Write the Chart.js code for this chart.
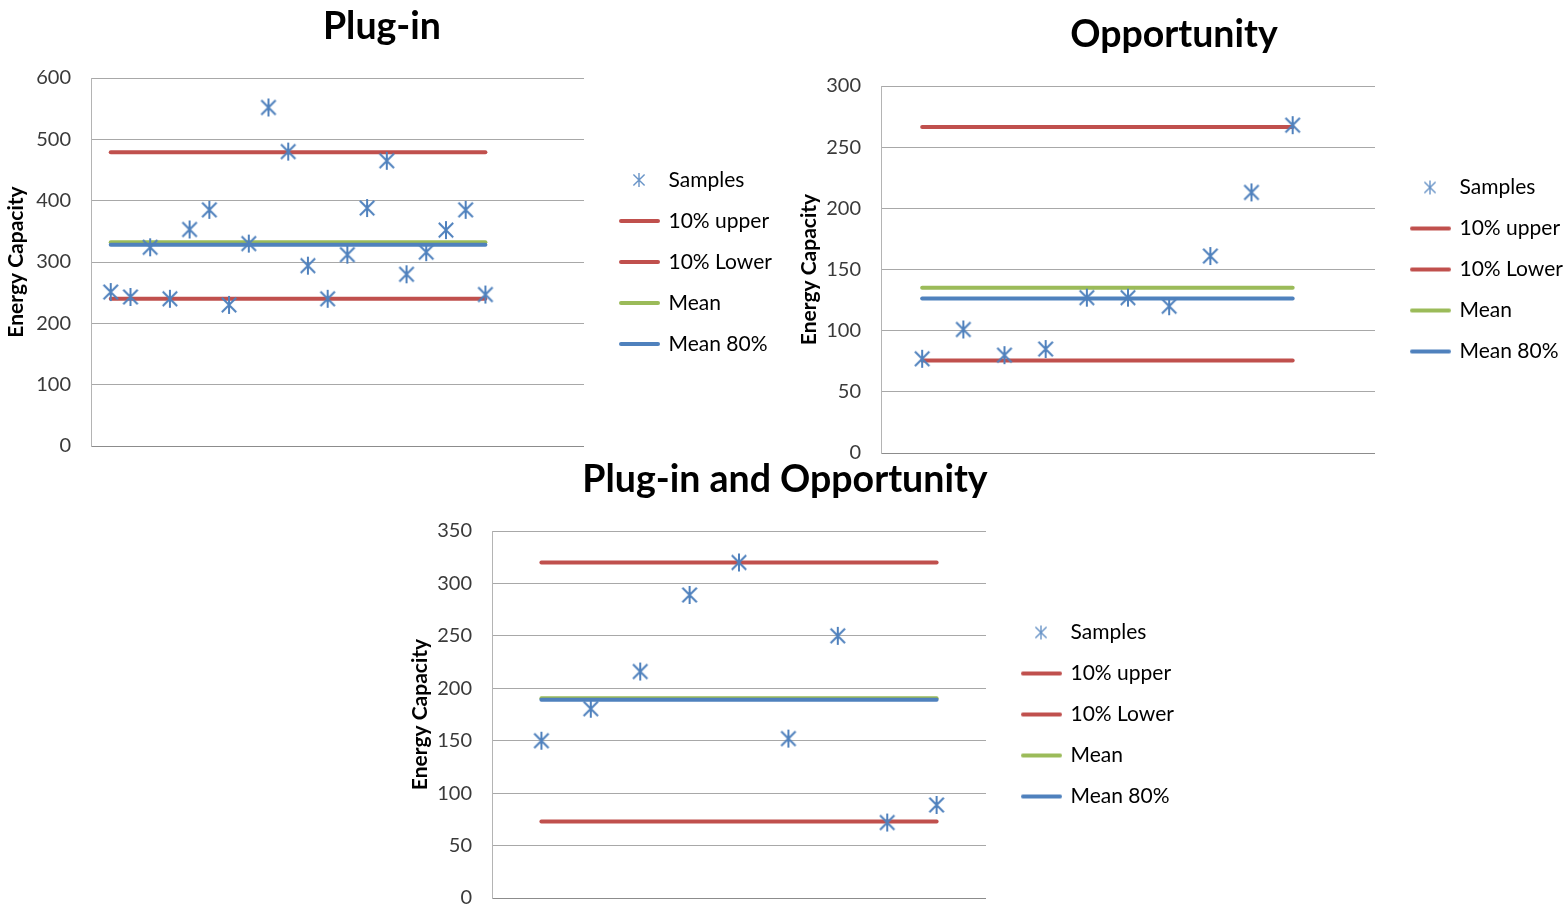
<!DOCTYPE html>
<html><head><meta charset="utf-8">
<script src="https://cdn.jsdelivr.net/npm/chart.js@4.4.1/dist/chart.umd.min.js"></script>
<style>
html,body{margin:0;padding:0;background:#fff;width:1567px;height:908px;overflow:hidden;position:relative}
canvas{position:absolute;display:block}
</style></head><body>
<canvas id="c1"></canvas>
<canvas id="c2"></canvas>
<canvas id="c3"></canvas>
<script>
// ---- data ----
const chartTitles = ['Plug-in', 'Opportunity', 'Plug-in and Opportunity'];
const seriesNames = ['Samples', '10% upper', '10% Lower', 'Mean', 'Mean 80%'];
const plugInSamples = [251, 243, 324, 240, 353, 385, 230, 330, 552, 480, 294, 240, 312, 388, 465, 280, 316, 352, 385, 247];
const opportunitySamples = [77, 101, 80, 85, 127, 127, 120, 161, 213, 268];
const combinedSamples = [150, 180.5, 216, 289, 320, 152, 250, 72, 88.7];
// levels: 10% upper, 10% Lower, Mean, Mean 80%
const plugInLevels = [479, 240, 332, 328];
const opportunityLevels = [266.5, 75.6, 135, 126.2];
const combinedLevels = [320, 72.9, 190.4, 189];
const yTickMax = [600, 300, 350];
const yTickStep = [100, 50, 50];
const xSlots = [25, 12, 10];
const axisTitle = 'Energy Capacity';

const COLORS = ['#4F81BD', '#C0504D', '#C0504D', '#9BBB59', '#4F81BD'];
const DRAW_ORDER = [-2, 0, 0, 0, -1];
const FONT = 'Lato';
Chart.defaults.font.family = FONT;

function starImage(w, h, cx, size, lw, color) {
  const c = document.createElement('canvas');
  c.width = w; c.height = h;
  const g = c.getContext('2d');
  g.strokeStyle = color; g.lineWidth = lw; g.lineCap = 'butt';
  const cy = h / 2, r = size / 2;
  g.beginPath();
  g.moveTo(cx - r * 0.8, cy - r * 0.8); g.lineTo(cx + r * 0.8, cy + r * 0.8);
  g.moveTo(cx + r * 0.8, cy - r * 0.8); g.lineTo(cx - r * 0.8, cy + r * 0.8);
  g.moveTo(cx, cy - r); g.lineTo(cx, cy + r);
  g.stroke();
  return c;
}
function lineImage(w, h, x0, x1, lw, color) {
  const c = document.createElement('canvas');
  c.width = w; c.height = h;
  const g = c.getContext('2d');
  g.strokeStyle = color; g.lineWidth = lw; g.lineCap = 'round';
  g.beginPath(); g.moveTo(x0, h / 2); g.lineTo(x1, h / 2); g.stroke();
  return c;
}
const markerImg = starImage(20, 20, 10, 18, 2, '#4F81BD');
const legendImgs = [
  starImage(58, 16, 37, 14, 1.4, 'rgba(79,129,189,0.85)'),
  lineImage(58, 8, 19, 56, 4, COLORS[1]),
  lineImage(58, 8, 19, 56, 4, COLORS[2]),
  lineImage(58, 8, 19, 56, 4, COLORS[3]),
  lineImage(58, 8, 19, 56, 4, COLORS[4])
];

// target geometry in page pixels
const targets = [
  {plotLeft: 91,  plotRight: 584,  titleC: 382,  axisTitleX: 16.5, top: 0,   plotBottom: 446, tTop: 4.5,  tBot: 28.5},
  {plotLeft: 881, plotRight: 1375, titleC: 1174, axisTitleX: 809,  top: 0,   plotBottom: 453, tTop: 12.5, tBot: 28.5},
  {plotLeft: 492, plotRight: 986,  titleC: 785,  axisTitleX: 420,  top: 453, plotBottom: 898, tTop: 4.5,  tBot: 28.5}
];
const AXIS_TITLE_SIZE = 21;
const BOTTOM_GAP = 32;

function buildConfig(idx, samples, levels, P) {
  const n = samples.length;
  const datasets = [{
    label: seriesNames[0],
    type: 'scatter',
    order: DRAW_ORDER[0],
    data: samples.map((v, i) => ({x: i + 1, y: v})),
    pointStyle: markerImg,
    showLine: false,
    borderColor: COLORS[0],
    backgroundColor: COLORS[0]
  }];
  levels.forEach((lv, k) => {
    datasets.push({
      label: seriesNames[k + 1],
      type: 'line',
      order: DRAW_ORDER[k + 1],
      data: [{x: 1, y: lv}, {x: n, y: lv}],
      borderColor: COLORS[k + 1],
      backgroundColor: COLORS[k + 1],
      borderWidth: 4,
      borderCapStyle: 'round',
      pointRadius: 0,
      pointHoverRadius: 0,
      showLine: true,
      fill: false
    });
  });
  const T = targets[idx];
  return {
    type: 'scatter',
    data: {datasets},
    options: {
      responsive: false,
      animation: false,
      events: [],
      layout: {padding: {left: 0, right: P.padR, top: 0, bottom: 0}},
      plugins: {
        tooltip: {enabled: false},
        title: {
          display: true, text: chartTitles[idx], color: '#000',
          font: {family: FONT, size: 37.5, weight: 'bold', lineHeight: 1.2},
          padding: {top: T.tTop, bottom: T.tBot}
        },
        legend: {
          display: true, position: 'right', align: 'center', fullSize: false,
          labels: {
            usePointStyle: true, pointStyleWidth: 54, padding: 20, color: '#1a1a1a',
            font: {family: FONT, size: 21},
            generateLabels: (chart) => chart.data.datasets.map((ds, i) => ({
              text: ds.label, pointStyle: legendImgs[i], fillStyle: COLORS[i],
              strokeStyle: COLORS[i], lineWidth: 0, hidden: false, datasetIndex: i
            }))
          }
        }
      },
      scales: {
        x: {type: 'linear', min: 0, max: xSlots[idx], display: false},
        y: {
          type: 'linear', min: 0, max: yTickMax[idx],
          afterFit: (s) => { s.width = P.yW; },
          ticks: {stepSize: yTickStep[idx], padding: 20, color: '#3a3a3a', font: {family: FONT, size: 20}},
          grid: {
            drawTicks: false,
            color: (ctx) => ctx.tick && ctx.tick.value === 0 ? '#8c8c8c' : '#a8a8a8',
            lineWidth: 1
          },
          border: {display: true, color: '#b4b4b4', width: 1},
          title: {
            display: true, text: axisTitle, color: '#000',
            font: {family: FONT, size: AXIS_TITLE_SIZE, weight: 'bold', lineHeight: 1.2},
            padding: {top: P.axisPad, bottom: 4}
          }
        }
      }
    }
  };
}

function sizeCanvas(cv, L, top, w, h) {
  cv.width = w; cv.height = h;
  cv.style.left = L + 'px'; cv.style.top = top + 'px';
  cv.style.width = w + 'px'; cv.style.height = h + 'px';
}

function makeChart(id, idx, samples, levels) {
  const T = targets[idx];
  const cv = document.getElementById(id);
  const h = T.plotBottom - T.top + BOTTOM_GAP;
  // first pass: measure the legend's natural width
  sizeCanvas(cv, 0, T.top, 900, h);
  const probe = new Chart(cv, buildConfig(idx, samples, levels, {padR: 2, yW: 90, axisPad: 4}));
  const LW = probe.legend.width;
  probe.destroy();
  const L = Math.round(2 * T.titleC - T.plotRight - LW);
  const yW = T.plotLeft - L;
  const R = T.plotRight + LW - L;
  const axisPad = T.axisTitleX - AXIS_TITLE_SIZE * 0.6 - L;
  const padR = 2;
  sizeCanvas(cv, L, T.top, Math.round(R + padR), h);
  return new Chart(cv, buildConfig(idx, samples, levels, {padR: padR + (Math.round(R) - R), yW, axisPad}));
}

makeChart('c1', 0, plugInSamples, plugInLevels);
makeChart('c2', 1, opportunitySamples, opportunityLevels);
makeChart('c3', 2, combinedSamples, combinedLevels);
</script>
</body></html>
